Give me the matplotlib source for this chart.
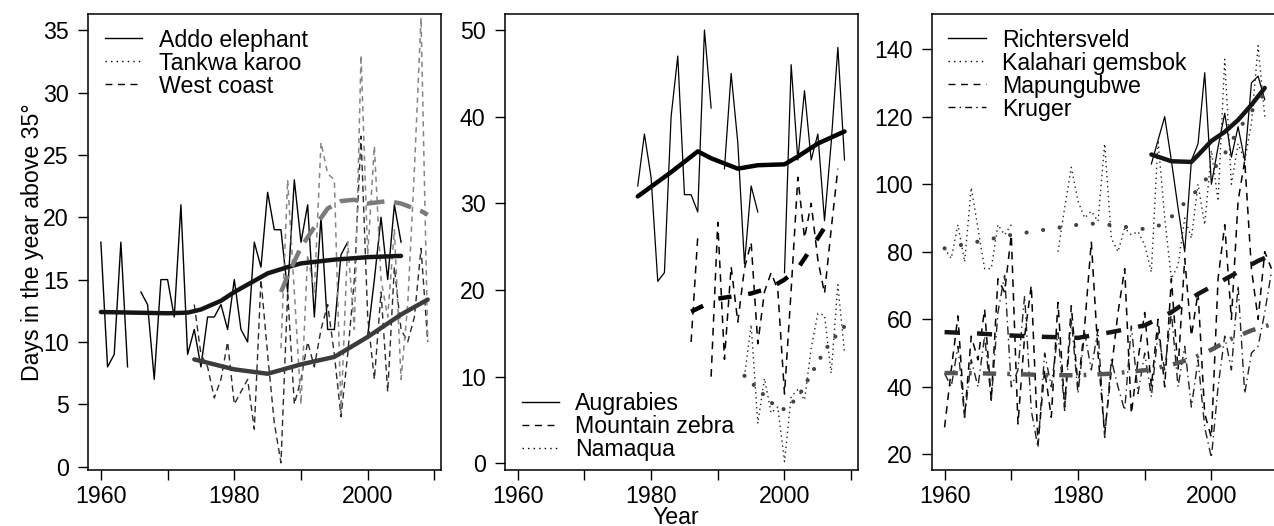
import numpy as np
import matplotlib
matplotlib.use("Agg")
import matplotlib.pyplot as plt
from matplotlib.lines import Line2D

plt.rcParams['font.family'] = ['Liberation Sans', 'DejaVu Sans']
FS = 16.7
nan = np.nan

# ---------------- Panel 1 data ----------------
years1 = list(range(1960, 2010))
addo = [18, 8, 9, 18, 8, nan, 14, 13, 7, 15,
        15, 12, 21, 9, 11, 8, 12, 12, 13, 11,
        15, 11, 10, 18, 16, 22, 19, 19, 14, 23,
        18, 21, 12, 20, 11, 11, 17, 18, nan, nan,
        10.5, 15, 20, 15, 21, 18, nan, nan, nan, nan]
west_coast = [nan] * 14 + [13, 9, 8, 5.5, 7, 10,
        5, 6, 7, 3, 15, 9, 3.5, 0.3, 14, 5,
        7, 10, 8, 11, 13, 9, 4, 9, 15, 26.5,
        12, 7, 14, 6, 16, 11, 10, 12, 17.5, 10]
tankwa = [nan] * 27 + [9.5, 23, 14,
        5, 17, 14, 26, 23.5, 23, 4.3, 18, 11, 33,
        17, 25.7, 15, 12, 19, 7, 13, 23.8, 36, 10]

addo_sm_years = [1960, 1965, 1970, 1973, 1975, 1978, 1980, 1983, 1985, 1988, 1990, 1995, 2000, 2005]
addo_sm = [12.4, 12.35, 12.3, 12.35, 12.6, 13.3, 14.0, 14.9, 15.5, 16.0, 16.3, 16.6, 16.8, 16.9]
west_sm_years = [1974, 1977, 1980, 1985, 1990, 1995, 2000, 2005, 2009]
west_sm = [8.6, 8.2, 7.8, 7.45, 8.2, 8.8, 10.4, 12.2, 13.4]
tank_sm_years = [1987, 1988, 1990, 1992, 1994, 1996, 1998, 2000, 2003, 2005, 2008, 2009]
tank_sm = [14.0, 15.3, 17.6, 19.2, 20.7, 21.3, 21.4, 21.1, 21.3, 21.1, 20.5, 20.2]

# ---------------- Panel 2 data ----------------
years2 = list(range(1978, 2010))
augrabies = [32, 38, 33, 21, 22, 40, 47, 31, 31, 29,
             50, 41, nan, 34, 45, 37, 23, 32, 29, nan,
             nan, nan, 22, 46, 35, 43, 35, 38, 28, 37,
             48, 35]
mzebra = [nan] * 8 + [14, 26.2, nan, 10, 27.8, 12, 22.7, 16.3, 22.5, 25.5,
          13.8, 19.8, 22, 20, 8, 20, 33, 26, 30, 23.5,
          19.6, 27, 34, nan]
namaqua = [nan] * 16 + [10, 16, 4.6, 9.8, 5.8, 6.5, 0.2, 7.7, 8.5, 7.3,
           13.3, 17.3, 17.1, 10.4, 20.6, 12.7]

aug_sm_years = [1978, 1983, 1987, 1989, 1991, 1993, 1996, 2000, 2002, 2005, 2009]
aug_sm = [30.8, 33.6, 36.0, 35.2, 34.6, 34.0, 34.4, 34.5, 35.4, 36.9, 38.3]
mz_sm_years = [1986, 1990, 1995, 1998, 2000, 2002, 2004, 2006, 2007]
mz_sm = [17.5, 19.0, 19.6, 20.3, 21.2, 22.5, 24.8, 27.2, 28.5]
nam_sm_years = [1994, 1996, 1998, 2000, 2002, 2004, 2006, 2008, 2009]
nam_sm = [10.1, 8.6, 7.0, 6.2, 7.6, 10.3, 13.0, 15.0, 15.8]

# ---------------- Panel 3 data ----------------
years3 = list(range(1960, 2010))
kalahari = [81, 78, 88, 77, 99, 87, 75, 75, 88, 85,
            88, nan, nan, nan, nan, nan, nan, 80, 93, 105,
            95, 90, 92, 89, 112, 84, 80, 87, 85, 86,
            82, 74, 113, 90, 72, 76, 90, 84, 100, 88,
            110, 95, 137, 100, 112, 107, 118, 141, 120, nan]
richtersveld = [nan] * 31 + [106, 113, 120, 107, 93, 80, 107, 112, 133,
                100, 111, 121, 108, 117, 107, 130, 132, 125, nan]
mapungubwe = [28, 45, 61, 31, 55, 48, 63, 36, 72, 68,
              85, 29, 55, 70, 23, 45, 31, 65, 34, 64,
              40, 58, 83, 50, 26, 45, 62, 75, 32, 48,
              62, 40, 60, 40, 72, 45, 78, 55, 68, 32,
              25, 72, 88, 60, 95, 107, 75, 60, 80, 75]
kruger = [44, 40, 52, 31, 48, 40, 55, 36, 62, 73,
          40, 45, 67, 33, 22, 50, 40, 56, 33, 60,
          38, 56, 45, 57, 25, 48, 40, 33, 58, 38,
          50, 37, 56, 45, 62, 40, 52, 34, 48, 28,
          19, 40, 55, 45, 70, 38, 50, 52, 62, 74]

kal_sm_years = [1960, 1965, 1970, 1975, 1980, 1983, 1986, 1990, 1993, 1996, 1998, 2000, 2002, 2004, 2006, 2008]
kal_sm = [81, 83, 85, 86.5, 88, 88.4, 87.6, 86.7, 88.2, 94.5, 98.5, 103.5, 109, 116, 121.5, 127]
ric_sm_years = [1991, 1994, 1997, 1998, 2000, 2002, 2004, 2006, 2008]
ric_sm = [108.8, 106.8, 106.6, 108.6, 112.8, 115.5, 119, 123.5, 128.5]
map_sm_years = [1960, 1965, 1970, 1975, 1980, 1985, 1990, 1994, 1998, 2003, 2007, 2009]
map_sm = [56.2, 55.8, 55.2, 54.8, 54.5, 56.2, 58.2, 62.1, 67.5, 72.9, 77.3, 79]
kru_sm_years = [1960, 1965, 1970, 1975, 1980, 1985, 1990, 1994, 1997, 2000, 2003, 2006, 2009]
kru_sm = [44.1, 44.0, 43.8, 43.5, 43.4, 43.9, 44.9, 46.5, 48.3, 51, 54.2, 56.7, 58.5]

xticks = [1960, 1970, 1980, 1990, 2000, 2010]
xticklabels = ['1960', '', '1980', '', '2000', '']

W, H = 1274, 526
fig = plt.figure(figsize=(W / 100, H / 100), dpi=100)

def add_ax(left_px, right_px, top_px=14, bottom_px=470):
    return fig.add_axes([left_px / W, 1 - bottom_px / H,
                         (right_px - left_px) / W, (bottom_px - top_px) / H])

ax1 = add_ax(87.8, 440.8)
ax2 = add_ax(504.6, 857.6)
ax3 = add_ax(931.5, 1284.5)

THIN = 1.0
THICK = 3.2
DASH = (0, (4.5, 3))
DOT = (0, (1, 2.6))
DASHDOT = (0, (6, 3, 1, 3))

# Panel 1
ax1.plot(years1, addo, color='black', lw=THIN)
ax1.plot(years1, west_coast, color='#2a2a2a', lw=THIN, linestyle=DASH)
ax1.plot(years1, tankwa, color='#858585', lw=1.1, linestyle=(0, (3.5, 3)))
ax1.plot(addo_sm_years, addo_sm, color='#151515', lw=THICK, solid_capstyle='round')
ax1.plot(west_sm_years, west_sm, color='#3c3c3c', lw=THICK, solid_capstyle='round')
ax1.plot(tank_sm_years, tank_sm, color='#7a7a7a', lw=THICK, linestyle=(0, (4, 2.2)))
ax1.set_ylim(-0.27, 36.3)
ax1.set_yticks([0, 5, 10, 15, 20, 25, 30, 35])

# Panel 2
ax2.plot(years2, augrabies, color='black', lw=0.9)
ax2.plot(years2, mzebra, color='black', lw=1.1, linestyle=(0, (5, 4)))
ax2.plot(years2, namaqua, color='#222222', lw=1.0, linestyle=DOT)
ax2.plot(aug_sm_years, aug_sm, color='black', lw=THICK, solid_capstyle='round')
ax2.plot(mz_sm_years, mz_sm, color='black', lw=THICK, linestyle=(0, (3, 3.8)))
ax2.plot(nam_sm_years, nam_sm, color='#444444', lw=3.0, linestyle=(0, (0.01, 3.1)),
         dash_capstyle='round')
ax2.set_ylim(-0.77, 51.85)
ax2.set_yticks([0, 10, 20, 30, 40, 50])

# Panel 3
ax3.plot(years3, richtersveld, color='black', lw=0.9)
ax3.plot(years3, kalahari, color='#222222', lw=1.0, linestyle=DOT)
ax3.plot(years3, mapungubwe, color='black', lw=1.1, linestyle=(0, (5, 4)))
ax3.plot(years3, kruger, color='#222222', lw=1.0, linestyle=DASHDOT)
ax3.plot(ric_sm_years, ric_sm, color='#151515', lw=THICK, solid_capstyle='round')
ax3.plot(kal_sm_years, kal_sm, color='#444444', lw=3.0, linestyle=(0, (0.01, 4.0)),
         dash_capstyle='round')
ax3.plot(map_sm_years, map_sm, color='#151515', lw=THICK, linestyle=(0, (3.4, 3.9)))
ax3.plot(kru_sm_years, kru_sm, color='#555555', lw=THICK, linestyle=(0, (3, 2.5, 0.6, 2.5)))
ax3.set_ylim(15.37, 150.4)
ax3.set_yticks([20, 40, 60, 80, 100, 120, 140])

for ax in (ax1, ax2, ax3):
    ax.set_xlim(1958.04, 2010.96)
    ax.set_xticks(xticks)
    ax.set_xticklabels(xticklabels)
    ax.tick_params(axis='both', direction='out', length=7.2, width=1.0,
                   labelsize=FS, pad=3.8, colors='black')
    ax.tick_params(axis='y', pad=6.5)
    for s in ax.spines.values():
        s.set_linewidth(1.1)
    ax.set_facecolor('white')

ax1.set_ylabel('Days in the year above 35°', fontsize=FS)
ax1.yaxis.set_label_coords(-0.125, 0.5)
fig.text(676 / W, 1 - 524.5 / H, 'Year', fontsize=FS, ha='center', va='baseline')

def legend(ax, labels, styles, loc, anchor):
    handles = [Line2D([], [], color='black', lw=1.0, linestyle=st) for st in styles]
    ax.legend(handles, labels, loc=loc, bbox_to_anchor=anchor, frameon=False,
              fontsize=FS, handlelength=1.6, handletextpad=0.72, labelspacing=0.0,
              borderpad=0, borderaxespad=0)

legend(ax1, ['Addo elephant', 'Tankwa karoo', 'West coast'],
       ['-', (0, (1, 3)), (0, (5, 4))], 'upper left', (0.048, 0.968))
legend(ax2, ['Augrabies', 'Mountain zebra', 'Namaqua'],
       ['-', (0, (5, 4)), (0, (1, 3))], 'lower left', (0.048, 0.02))
legend(ax3, ['Richtersveld', 'Kalahari gemsbok', 'Mapungubwe', 'Kruger'],
       ['-', (0, (1, 3)), (0, (5, 4)), (0, (5, 3, 1, 3))], 'upper left', (0.048, 0.968))

fig.savefig('out.png', dpi=100)
